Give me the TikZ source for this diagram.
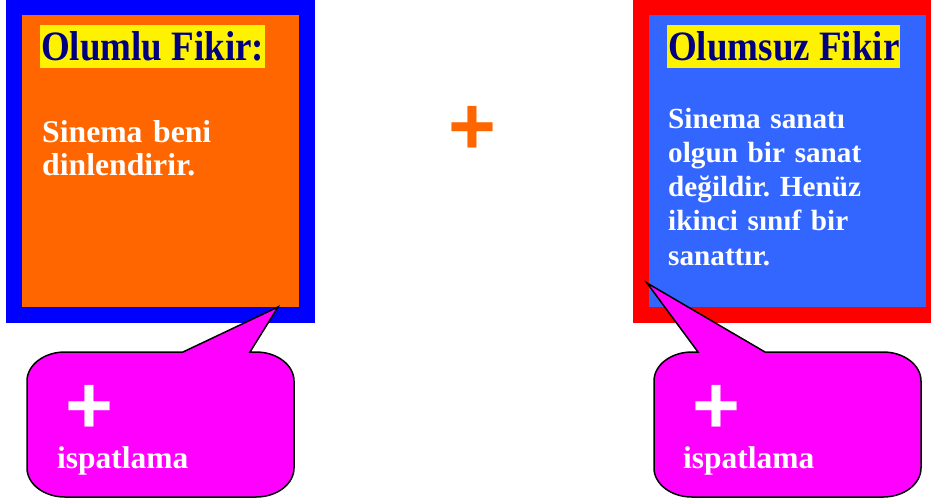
\documentclass[tikz,border=0pt]{standalone}
\usepackage{fontspec}
\usepackage{graphicx}
\setmainfont{Liberation Serif}
\newfontfamily\plusfont{Liberation Sans}
\usetikzlibrary{positioning}
\frenchspacing
\definecolor{frameblue}{RGB}{0,0,255}
\definecolor{boxorange}{RGB}{255,102,0}
\definecolor{framered}{RGB}{255,0,0}
\definecolor{boxblue}{RGB}{51,102,255}
\definecolor{titlenavy}{RGB}{0,0,128}
\definecolor{bubblepink}{RGB}{255,0,255}
\newcommand{\fikirbaslik}[1]{\scalebox{1}[1.13]{#1}}
\tikzset{fikir title/.style={fill=yellow, text=titlenavy, font=\fontsize{37}{40}\selectfont\bfseries, inner xsep=1pt, inner ysep=0pt, text height=35pt, text depth=8pt, anchor=base west}, fikir text/.style={text=white, text width=250pt, align=left, inner sep=0pt, anchor=base west}, bubble/.style={fill=bubblepink, draw=black, line width=1.5pt}, plus sign/.style={font=\plusfont\bfseries\fontsize{82}{82}\selectfont, inner sep=0pt}, bubble text/.style={text=white, font=\fontsize{31.5}{34}\selectfont\bfseries, inner sep=0pt, anchor=base west}}

\begin{document}
\begin{tikzpicture}[x=1pt,y=-1pt]
\useasboundingbox (0,0) rectangle (931,499);
% olumlu
\fill[frameblue] (6,-10) rectangle (315,323);
\fill[boxorange] (22,15) rectangle (299,307);
\node[fikir title] (olumlu) at (40,60) {\fikirbaslik{Olumlu Fikir:}};
\node[fikir text, font=\fontsize{31.7}{33}\selectfont\bfseries] (olumluText) at (42,142) {Sinema beni\\dinlendirir.};
% olumsuz
\fill[framered] (633,-10) rectangle (942,323);
\fill[boxblue] (649,15) rectangle (926,307);
\node[fikir title] (olumsuz) at (667,60) {\fikirbaslik{Olumsuz Fikir}};
\node[fikir text, font=\fontsize{29.2}{34.3}\selectfont\bfseries] (olumsuzText) at (668,128) {Sinema sanatı\\olgun bir sanat\\değildir. Henüz\\ikinci sınıf bir\\sanattır.};
\node[plus sign, text=boxorange] (arti) at (472,130) {+};
% ispatlama
\coordinate (tipL) at (278,307);
\draw[bubble] (65,352) -- (183,352) -- (tipL) -- (250,352) -- (256,352)
 .. controls +(21,0) and +(0,-16) .. (294,381)
 -- (294,468) .. controls +(0,16) and +(21,0) .. (256,497)
 -- (65,497) .. controls +(-21,0) and +(0,16) .. (27,468)
 -- (27,381) .. controls +(0,-16) and +(-21,0) .. (65,352) -- cycle;
\node[plus sign, text=white] (artiL) at (89.5,409) {+};
\node[bubble text] (ispatL) at (57,468) {ispatlama};
\coordinate (tipR) at (647,283);
\draw[bubble] (692,352) -- (698,352) -- (tipR) -- (765,352) -- (883,352)
 .. controls +(21,0) and +(0,-16) .. (921,381)
 -- (921,468) .. controls +(0,16) and +(21,0) .. (883,497)
 -- (692,497) .. controls +(-21,0) and +(0,16) .. (654,468)
 -- (654,381) .. controls +(0,-16) and +(-21,0) .. (692,352) -- cycle;
\node[plus sign, text=white] (artiR) at (716.5,409) {+};
\node[bubble text] (ispatR) at (683,468) {ispatlama};
\end{tikzpicture}
\end{document}
